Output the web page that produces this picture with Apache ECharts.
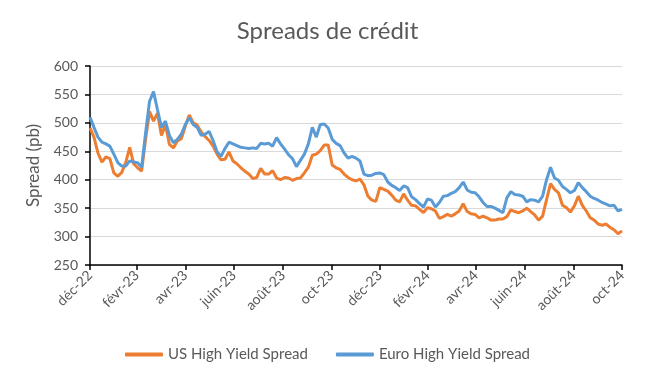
<!DOCTYPE html>
<html>
<head>
<meta charset="utf-8">
<script src="https://cdn.jsdelivr.net/npm/echarts@6/dist/echarts.min.js"></script>
<style>
html,body{margin:0;padding:0;background:#fff;}
#chart{width:655px;height:378px;}
</style>
</head>
<body>
<div id="chart"></div>
<script>
// Sample dates: every 5 days from 2022-12-31 to 2024-10-31
const startDate = [2022, 11, 31];
const stepDays = 5;

const usHighYield = [
  491, 475, 447, 431, 440, 437, 412, 406, 413, 430, 457, 428, 421, 415, 471, 520, 503,
  517, 478, 497, 462, 456, 468, 472, 494, 514, 500, 496, 484, 476, 469, 459, 445, 435,
  436, 449, 433, 428, 421, 415, 410, 402, 404, 420, 410, 410, 416, 403, 400, 404, 403,
  399, 402, 403, 412, 422, 443, 445, 451, 461, 461, 426, 421, 418, 410, 404, 400, 398,
  401, 391, 371, 364, 362, 386, 383, 380, 373, 364, 361, 375, 364, 355, 354, 348, 342,
  351, 349, 345, 332, 335, 339, 336, 340, 345, 358, 344, 340, 339, 333, 336, 333,
  329, 329, 331, 331, 335, 347, 344, 342, 345, 350, 344, 338, 329, 336, 365, 393, 383,
  377, 355, 351, 343, 354, 371, 355, 345, 333, 329, 322, 320, 322, 316, 312, 305, 310
];

const euroHighYield = [
  510, 492, 475, 466, 463, 459, 445, 430, 424, 424, 433, 431, 430, 422, 482, 538, 555,
  523, 492, 503, 478, 465, 471, 480, 497, 509, 497, 492, 478, 480, 485, 469, 449, 441,
  455, 466, 463, 460, 457, 456, 455, 456, 455, 464, 463, 464, 459, 474, 463, 454, 444,
  437, 423, 434, 445, 463, 492, 475, 497, 498, 491, 471, 464, 460, 447, 438, 441, 438,
  433, 410, 407, 408, 411, 412, 409, 396, 390, 386, 381, 389, 386, 370, 365, 358, 352,
  366, 364, 352, 360, 371, 372, 376, 379, 386, 396, 382, 378, 377, 370, 360, 353,
  353, 350, 346, 342, 368, 379, 374, 373, 371, 361, 365, 364, 361, 371, 400, 422, 403,
  399, 388, 383, 377, 381, 395, 386, 379, 371, 367, 364, 360, 357, 354, 355, 345, 348
];

const tickDates = [
  [2022, 11, 31], [2023, 1, 28], [2023, 3, 30], [2023, 5, 30], [2023, 7, 31], [2023, 9, 31],
  [2023, 11, 31], [2024, 1, 29], [2024, 3, 30], [2024, 5, 30], [2024, 7, 31], [2024, 9, 31]
];
const tickLabels = [
  'déc-22', 'févr-23', 'avr-23', 'juin-23', 'août-23', 'oct-23',
  'déc-23', 'févr-24', 'avr-24', 'juin-24', 'août-24', 'oct-24'
];

const seriesNames = ['US High Yield Spread', 'Euro High Yield Spread'];

function ts(a) { return Date.UTC(a[0], a[1], a[2]); }
const dates = usHighYield.map((_, i) => Date.UTC(startDate[0], startDate[1], startDate[2] + i * stepDays));
const tickValues = tickDates.map(ts);

const FONT = 'Lato, "Open Sans", sans-serif';
const chart = echarts.init(document.getElementById('chart'), null, {renderer: 'canvas'});
chart.setOption({
  animation: false,
  backgroundColor: '#ffffff',
  title: {
    text: 'Spreads de crédit',
    left: 'center',
    top: 14,
    textStyle: {fontFamily: FONT, fontSize: 24, fontWeight: 'normal', color: '#595959'}
  },
  legend: {
    bottom: 11,
    left: 'center',
    itemWidth: 38,
    itemHeight: 4,
    itemGap: 28,
    icon: 'roundRect',
    data: seriesNames,
    textStyle: {fontFamily: FONT, fontSize: 15, color: '#595959'}
  },
  grid: {left: 90, right: 33, top: 66, bottom: 113},
  xAxis: {
    type: 'value',
    min: tickValues[0],
    max: tickValues[tickValues.length - 1],
    axisLine: {lineStyle: {color: '#000000', width: 1.5}},
    axisTick: {show: true, length: 5, lineStyle: {color: '#000000', width: 1.5}, customValues: tickValues},
    axisLabel: {
      customValues: tickValues,
      rotate: 45,
      fontFamily: FONT,
      fontSize: 14,
      color: '#595959',
      margin: 8,
      formatter: function (v) {
        const i = tickValues.findIndex(t => Math.abs(t - v) < 43200000);
        return i >= 0 ? tickLabels[i] : '';
      }
    },
    splitLine: {show: false}
  },
  yAxis: {
    type: 'value',
    min: 250,
    max: 600,
    interval: 50,
    name: 'Spread (pb)',
    nameLocation: 'middle',
    nameRotate: 90,
    nameGap: 48,
    nameTextStyle: {fontFamily: FONT, fontSize: 17, color: '#595959'},
    axisLine: {show: true, lineStyle: {color: '#000000', width: 1.5}},
    axisTick: {show: true, length: 5, lineStyle: {color: '#000000', width: 1.5}},
    axisLabel: {fontFamily: FONT, fontSize: 14, color: '#595959', margin: 12},
    splitLine: {show: true, lineStyle: {color: '#d9d9d9', width: 1}}
  },
  series: [
    {
      name: seriesNames[0],
      type: 'line',
      showSymbol: false,
      symbol: 'none',
      itemStyle: {color: '#ED7D31'},
      lineStyle: {color: '#ED7D31', width: 3},
      data: dates.map((d, i) => [d, usHighYield[i]])
    },
    {
      name: seriesNames[1],
      type: 'line',
      showSymbol: false,
      symbol: 'none',
      itemStyle: {color: '#5B9BD5'},
      lineStyle: {color: '#5B9BD5', width: 3},
      data: dates.map((d, i) => [d, euroHighYield[i]])
    }
  ]
});
</script>
</body>
</html>
